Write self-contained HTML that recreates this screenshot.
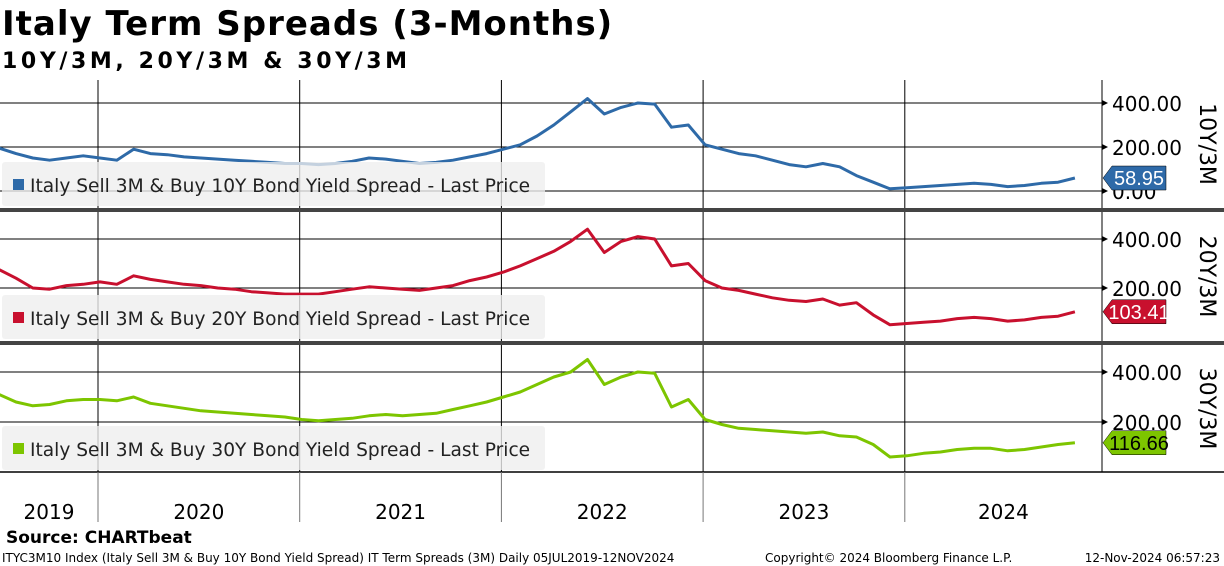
<!DOCTYPE html>
<html><head><meta charset="utf-8"><style>
body{margin:0;background:#fff;width:1224px;height:566px;overflow:hidden;font-family:"DejaVu Sans","Liberation Sans",sans-serif}
svg{position:absolute;left:0;top:0}
</style></head><body>
<svg id="c" width="1224" height="566" xmlns="http://www.w3.org/2000/svg">
<text x="2" y="35" font-size="34" font-weight="bold" letter-spacing="1" font-family="DejaVu Sans, sans-serif">Italy Term Spreads (3-Months)</text>
<text x="2" y="68" font-size="22" font-weight="bold" letter-spacing="3.6" font-family="DejaVu Sans, sans-serif">10Y/3M, 20Y/3M &amp; 30Y/3M</text>
<text x="6" y="543" font-size="17" font-weight="bold">Source: CHARTbeat</text>
<text x="2" y="562" font-size="12">ITYC3M10 Index (Italy Sell 3M &amp; Buy 10Y Bond Yield Spread) IT Term Spreads (3M)  Daily 05JUL2019-12NOV2024</text>
<text x="765" y="562" font-size="12">Copyright© 2024 Bloomberg Finance L.P.</text>
<text x="1220" y="562" font-size="12" text-anchor="end">12-Nov-2024 06:57:23</text>
</svg>
<script>
const years = [2019,2020,2021,2022,2023,2024];
const yTicks = [0,200,400];
const startT = 2019.5;
const spread10 = [195,170,150,140,150,160, 150,140,190,170,165,155,150,145,140,135,130,125, 125,120,125,135,150,145,135,125,130,140,155,170, 190,210,250,300,360,420,350,380,400,395,290,300, 210,190,170,160,140,120,110,125,110,70,40,10, 15,20,25,30,35,30,20,25,35,40,59];
const spread20 = [275,240,200,195,210,215, 225,215,250,235,225,215,210,200,195,185,180,175, 175,175,185,195,205,200,195,190,200,210,230,245, 265,290,320,350,390,440,345,390,410,400,290,300, 230,200,190,175,160,150,145,155,130,140,90,50, 55,60,65,75,80,75,65,70,80,85,103];
const spread30 = [310,280,265,270,285,290, 290,285,300,275,265,255,245,240,235,230,225,220, 210,205,210,215,225,230,225,230,235,250,265,280, 300,320,350,380,400,450,350,380,400,395,260,290, 210,190,175,170,165,160,155,160,145,140,110,60, 65,75,80,90,95,95,85,90,100,110,117];
const lastPrices = ["58.95","103.41","116.66"];
const svg = document.getElementById('c');
const NS = 'http://www.w3.org/2000/svg';
function mk(t,a,p){const e=document.createElementNS(NS,t);for(const k in a)e.setAttribute(k,a[k]);(p||svg).appendChild(e);return e;}
function xs(t){return 98+(t-2020)*201.7;}
const panels=[
 {data:spread10,top:80,bot:208,y0:191,k:0.22,col:'#2e6aa8',lab:'Italy Sell 3M & Buy 10Y Bond Yield Spread - Last Price',title:'10Y/3M',txt:'#fff',name:'10y',zero:true},
 {data:spread20,top:212,bot:341,y0:337,k:0.245,col:'#c8102e',lab:'Italy Sell 3M & Buy 20Y Bond Yield Spread - Last Price',title:'20Y/3M',txt:'#fff',name:'20y',zero:false},
 {data:spread30,top:345,bot:472,y0:472,k:0.25,col:'#7dc500',lab:'Italy Sell 3M & Buy 30Y Bond Yield Spread - Last Price',title:'30Y/3M',txt:'#000',name:'30y',zero:false}];
panels.forEach((p,pi)=>{
 const ys=v=>p.y0-v*p.k;
 const g=mk('g',{});
 
 
 yTicks.forEach(v=>{const y=ys(v);if(y<p.top||y>p.bot)return;if(v===0&&!p.zero)return;
  const l=mk('line',{x1:0,x2:1102,y1:y,y2:y,stroke:'#000','stroke-width':1},g);
  
  
  mk('polygon',{points:`1102,${y-3} 1108,${y} 1102,${y+3}`,fill:'#000'},g);
  const t=mk('text',{x:1112,y:y+8,'font-size':20,fill:'#000'},g);t.textContent=v.toFixed(2);
  
  
 });
 for(let i=1;i<6;i++){mk('line',{x1:xs(years[i]),x2:xs(years[i]),y1:p.top,y2:p.bot,stroke:'#000','stroke-width':1},g);}
 mk('line',{x1:1102,x2:1102,y1:p.top,y2:p.bot,stroke:'#000'},g);
 const pts=p.data.map((v,i)=>xs(startT+i/12+0.01).toFixed(1)+','+ys(v).toFixed(1)).join(' ');
 const pl=mk('polyline',{points:pts,fill:'none',stroke:p.col,'stroke-width':3,'stroke-linejoin':'round'},g);
 
 
 const ly=p.bot-46;
 const lg=mk('g',{},g);
 
 
 mk('rect',{x:2,y:ly,width:543,height:44,rx:3,fill:'rgba(238,238,238,0.78)'},lg);
 mk('rect',{x:13,y:ly+17,width:11,height:11,fill:p.col},lg);
 const lt=mk('text',{x:30,y:ly+30,'font-size':18.6,fill:'#222'},lg);lt.textContent=p.lab;
 const last=p.data[p.data.length-1];const ty=ys(last);
 const tg=mk('g',{},g);
 
 
 mk('polygon',{points:`1103,${ty} 1112,${ty-12} 1166,${ty-12} 1166,${ty+12} 1112,${ty+12}`,fill:p.col,stroke:'#000','stroke-width':0.5},tg);
 const tt=mk('text',{x:1139,y:ty+7,'font-size':20,fill:p.txt,'text-anchor':'middle','font-family':'Liberation Sans, sans-serif'},tg);tt.textContent=lastPrices[pi];
 const ti=mk('text',{x:0,y:0,'font-size':22,fill:'#000',transform:`translate(1200,${(p.top+p.bot)/2}) rotate(90)`,'text-anchor':'middle'},g);ti.textContent=p.title;
 
 
 if(pi<2){const s=mk('rect',{x:0,y:p.bot,width:1224,height:4,fill:'#444'},g);
  
  }
});
mk('line',{x1:0,x2:1224,y1:472,y2:472,stroke:'#000','stroke-width':1.5});
for(let i=1;i<6;i++){mk('line',{x1:xs(years[i]),x2:xs(years[i]),y1:472,y2:522,stroke:'#777','stroke-width':1});}
years.forEach((yr,i)=>{const x0=Math.max(0,xs(yr)),x1=Math.min(xs(yr+1),1102);
 const t=mk('text',{x:i==0?49:(x0+x1)/2,y:519,'font-size':20,'text-anchor':'middle'});t.textContent=yr;
 
 });
</script>
</body></html>
